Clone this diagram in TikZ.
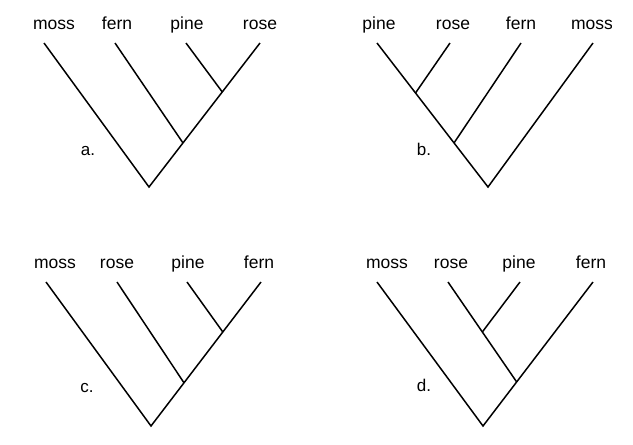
\documentclass[tikz,border=0pt]{standalone}
\usepackage{fontspec}
\setmainfont{Liberation Sans}
\usetikzlibrary{calc}
\begin{document}
\begin{tikzpicture}[x=1pt,y=-1pt,
  branch/.style={line width=1.5pt,black},
  taxon/.style={anchor=base,inner sep=0pt,font=\fontsize{17.5}{20}\selectfont},
  panel/.style={anchor=base,inner sep=0pt,font=\fontsize{17}{20}\selectfont}]
\clip (0,0) rectangle (633,445);
\useasboundingbox (0,0) rectangle (633,445);
% ---- panel a ----
\node[taxon] (a-moss-l) at (54,29) {moss};
\node[taxon] (a-fern-l) at (117,29) {fern};
\node[taxon] (a-pine-l) at (187,29) {pine};
\node[taxon] (a-rose-l) at (260,29) {rose};
\node[panel] (a-lab) at (88,155) {a.};
\coordinate (a-moss) at (44,43);
\coordinate (a-fern) at (115,43);
\coordinate (a-pine) at (186,43);
\coordinate (a-rose) at (260,43);
\coordinate (a-root) at (149,187);
\coordinate (a-j1) at ($(a-rose)!0.34!(a-root)$);
\coordinate (a-j2) at ($(a-rose)!0.694!(a-root)$);
\draw[branch] (a-moss) -- (a-root) -- (a-rose);
\draw[branch] (a-pine) -- (a-j1);
\draw[branch] (a-fern) -- (a-j2);
% ---- panel b ----
\node[taxon] (b-pine-l) at (379,29) {pine};
\node[taxon] (b-rose-l) at (453,29) {rose};
\node[taxon] (b-fern-l) at (521,29) {fern};
\begin{scope}
  \clip (555,0) rectangle (611,40);
  \node[taxon] (b-moss-l) at (592,29) {moss};
\end{scope}
\node[panel] (b-lab) at (424,155) {b.};
\coordinate (b-pine) at (377,43);
\coordinate (b-rose) at (450,43);
\coordinate (b-fern) at (521,43);
\coordinate (b-moss) at (593,43);
\coordinate (b-root) at (488,187);
\coordinate (b-j1) at ($(b-pine)!0.347!(b-root)$);
\coordinate (b-j2) at ($(b-pine)!0.694!(b-root)$);
\draw[branch] (b-pine) -- (b-root) -- (b-moss);
\draw[branch] (b-rose) -- (b-j1);
\draw[branch] (b-fern) -- (b-j2);
% ---- panel c ----
\node[taxon] (c-moss-l) at (55,268) {moss};
\node[taxon] (c-rose-l) at (117,268) {rose};
\node[taxon] (c-pine-l) at (188,268) {pine};
\node[taxon] (c-fern-l) at (259,268) {fern};
\node[panel] (c-lab) at (87,392) {c.};
\coordinate (c-moss) at (46,282);
\coordinate (c-rose) at (117,282);
\coordinate (c-pine) at (187,282);
\coordinate (c-fern) at (261,282);
\coordinate (c-root) at (151,426);
\coordinate (c-j1) at ($(c-fern)!0.347!(c-root)$);
\coordinate (c-j2) at ($(c-fern)!0.70!(c-root)$);
\draw[branch] (c-moss) -- (c-root) -- (c-fern);
\draw[branch] (c-pine) -- (c-j1);
\draw[branch] (c-rose) -- (c-j2);
% ---- panel d ----
\node[taxon] (d-moss-l) at (387,268) {moss};
\node[taxon] (d-rose-l) at (451,268) {rose};
\node[taxon] (d-pine-l) at (519,268) {pine};
\node[taxon] (d-fern-l) at (591,268) {fern};
\node[panel] (d-lab) at (424,391) {d.};
\coordinate (d-moss) at (377,282);
\coordinate (d-rose) at (448,282);
\coordinate (d-pine) at (520,282);
\coordinate (d-fern) at (593,282);
\coordinate (d-root) at (483,426);
\coordinate (d-j2) at ($(d-fern)!0.694!(d-root)$);
\coordinate (d-j1) at ($(d-rose)!0.5!(d-j2)$);
\draw[branch] (d-moss) -- (d-root) -- (d-fern);
\draw[branch] (d-rose) -- (d-j2);
\draw[branch] (d-pine) -- (d-j1);
\end{tikzpicture}
\end{document}
